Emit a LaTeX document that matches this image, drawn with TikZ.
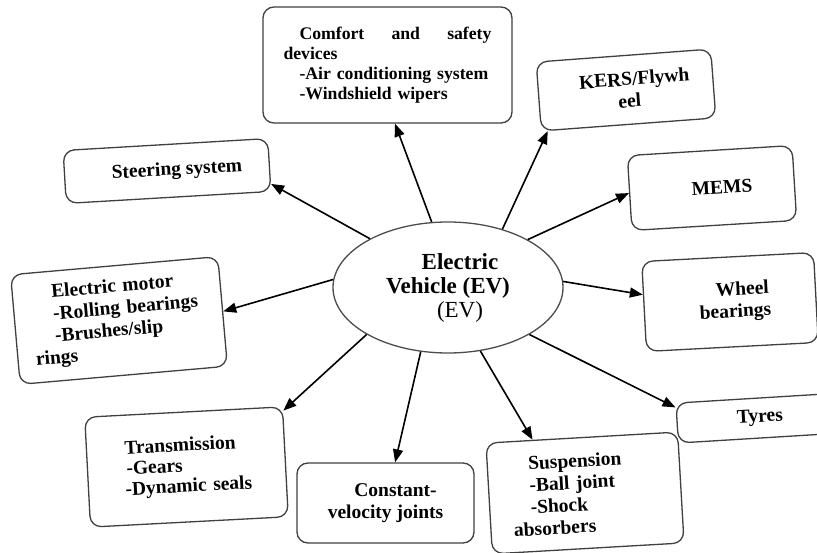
\documentclass[tikz,border=0pt]{standalone}
\usepackage{fontspec}
\setmainfont{Liberation Serif}
\usetikzlibrary{arrows.meta,calc,shapes.geometric}
\begin{document}
\begin{tikzpicture}[x=1pt,y=-1pt,
  box/.style={draw=black!75, line width=1.3pt, rounded corners=11pt, inner sep=0pt,
    font=\fontsize{19.5}{22}\selectfont\bfseries},
  arr/.style={-{Triangle[length=13pt,width=10pt]}, line width=1.6pt, black}]
\useasboundingbox (0,0) rectangle (817,553);
\clip (0,0) rectangle (817,553);
\fill[white] (0,0) rectangle (817,553);

% central ellipse
\node[ellipse, draw=black!70, line width=1.3pt, minimum width=230, minimum height=131,
  inner sep=0pt, align=center, font=\fontsize{23}{24}\selectfont] (ev) at (448,287.5)
  {\hspace*{24pt}\textbf{Electric}\\\textbf{Vehicle (EV)}\\\hspace*{24pt}(EV)};

% boxes
\node[box, minimum width=249, minimum height=116, text width=208, align=left,
  font=\fontsize{17.7}{20}\selectfont\bfseries] (comfort) at (387.5,65)
  {\hspace*{16pt}Comfort\hfill and\hfill safety\\devices\\\hspace*{16pt}-Air conditioning system\\\hspace*{16pt}-Windshield wipers};
\node[box, rotate=3.35, minimum width=205, minimum height=53, align=center] (steer) at (167,171)
  {\hspace*{20pt}Steering system};
\node[box, rotate=4.25, minimum width=175, minimum height=69, align=center] (kers) at (626,90)
  {\hspace*{18pt}KERS/Flywh\\\hspace*{6pt}eel};
\node[box, rotate=3.5, minimum width=165, minimum height=75, align=center] (mems) at (712,188)
  {\hspace*{20pt}MEMS};
\node[box, rotate=3, minimum width=172, minimum height=90, align=center] (wheel) at (730,302)
  {\hspace*{26pt}Wheel\\\hspace*{10pt}bearings};
\node[box, rotate=3.5, minimum width=166, minimum height=40, align=center] (tyres) at (760,418)
  {Tyres};
\node[box, rotate=3.3, minimum width=192, minimum height=111, text width=146, align=left] (susp) at (585,493)
  {\hspace*{18pt}Suspension\\\hspace*{18pt}-Ball joint\\\hspace*{18pt}-Shock\\absorbers};
\node[box, minimum width=177, minimum height=80, align=center] (cvj) at (385.5,503)
  {\hspace*{20pt}Constant-\\velocity joints};
\node[box, rotate=3, minimum width=198, minimum height=110, text width=136, align=left,
  font=\fontsize{19.5}{20.5}\selectfont\bfseries] (trans) at (186.5,467)
  {\hspace*{7pt}Transmission\\\hspace*{8pt}-Gears\\\hspace*{6pt}-Dynamic seals};
\node[box, rotate=5, minimum width=208, minimum height=110, text width=172, align=left] (motor) at (119,320.5)
  {\hspace*{21pt}Electric motor\\\hspace*{21pt}-Rolling bearings\\\hspace*{21pt}-Brushes/slip\\rings};

% connectors
\draw[arr] (ev.104.4) -- ($(comfort.south)!0.06!(comfort.south east)$);
\draw[arr] (ev.148.6) -- ($(steer.south east)!0.15!(steer.north east)$);
\draw[arr] (ev.47.7) -- ($(kers.south west)!0.04!(kers.south east)$);
\draw[arr] (ev.31.4) -- (mems.west);
\draw[arr] (ev.3.8) -- ($(wheel.north west)!0.37!(wheel.south west)$);
\draw[arr] (ev.330.4) -- ($(tyres.north west)!0.12!(tyres.south west)$);
\draw[arr] (ev.297.9) -- ($(susp.north west)!0.245!(susp.north east)$);
\draw[arr] (ev.247.4) -- ($(cvj.north west)!0.554!(cvj.north east)$);
\draw[arr] (ev.210.4) -- ($(trans.north east)!0.04!(trans.south east)$);
\draw[arr] (ev.176.3) -- (motor.east);
\end{tikzpicture}
\end{document}
